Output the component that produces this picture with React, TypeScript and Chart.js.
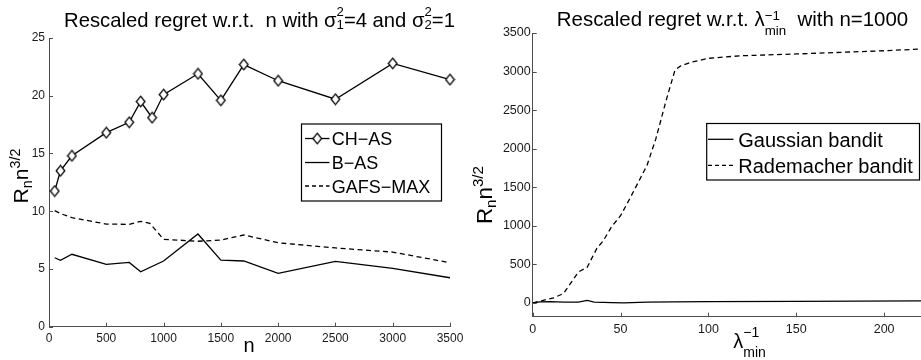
import React, { useEffect, useRef } from 'react';
import { Chart, registerables } from 'chart.js';

Chart.register(...registerables);

// ---------- data (left panel) ----------
const nCH = [50, 100, 200, 500, 700, 800, 900, 1000, 1300, 1500, 1700, 2000, 2500, 3000, 3500];
const chAS = [11.75, 13.5, 14.8, 16.8, 17.7, 19.5, 18.1, 20.1, 21.9, 19.6, 22.7, 21.3, 19.7, 22.8, 21.4];
const nB = [50, 100, 200, 500, 700, 800, 1000, 1300, 1500, 1700, 2000, 2500, 3000, 3500];
const bAS = [5.97, 5.75, 6.27, 5.4, 5.57, 4.76, 5.69, 8.03, 5.77, 5.69, 4.62, 5.66, 5.05, 4.24];
const nGA = [50, 100, 200, 500, 700, 800, 880, 1000, 1300, 1500, 1700, 2000, 2500, 3000, 3500];
const gafsMax = [10.05, 9.8, 9.44, 8.89, 8.86, 9.12, 8.95, 7.57, 7.4, 7.5, 7.94, 7.27, 6.82, 6.46, 5.54];
const leftXTicks = [0, 500, 1000, 1500, 2000, 2500, 3000, 3500];
const leftYTicks = [0, 5, 10, 15, 20, 25];
const leftLegend = ['CH\u2212AS', 'B\u2212AS', 'GAFS\u2212MAX'];

// ---------- data (right panel) ----------
const lamR = [0, 2, 5, 8, 12, 17.5, 26, 31, 36.5, 40, 45, 50, 55, 60, 65, 70, 76, 81, 84, 90, 100, 118, 150, 200, 221];
const rademacher = [0, 10, 25, 45, 65, 120, 400, 460, 706, 800, 990, 1130, 1340, 1560, 1780, 2120, 2630, 3020, 3070, 3120, 3172, 3204, 3228, 3270, 3292];
const lamG = [0, 4, 10, 18, 26, 31, 35, 45, 52, 65, 80, 100, 150, 221];
const gaussian = [0, 12, 16, 10, 10, 32, 10, 3, 0, 8, 12, 15, 20, 25];
const rightXTicks = [0, 50, 100, 150, 200];
const rightYTicks = [0, 500, 1000, 1500, 2000, 2500, 3000, 3500];
const rightLegend = ['Gaussian bandit', 'Rademacher bandit'];

const FONT = '"Liberation Sans", Arial, Helvetica, sans-serif';
const AXIS = '#4d4d4d';

type Seg = { t?: string; sup?: string; sub?: string; s?: number; dy?: number; supDy?: number; subDy?: number };

function segWidth(ctx: CanvasRenderingContext2D, seg: Seg, base: number) {
  if (seg.t !== undefined) {
    ctx.font = `${base * (seg.s ?? 1)}px ${FONT}`;
    return ctx.measureText(seg.t).width;
  }
  ctx.font = `${base * (seg.s ?? 0.65)}px ${FONT}`;
  return Math.max(seg.sup ? ctx.measureText(seg.sup).width : 0, seg.sub ? ctx.measureText(seg.sub).width : 0);
}

function richWidth(ctx: CanvasRenderingContext2D, segs: Seg[], base: number) {
  return segs.reduce((a, s) => a + segWidth(ctx, s, base), 0);
}

function drawRich(
  ctx: CanvasRenderingContext2D,
  segs: Seg[],
  x: number,
  y: number,
  base: number,
  opts: { align?: 'left' | 'center'; rotate?: boolean; fit?: number } = {}
) {
  let b = base;
  if (opts.fit) b = base * (opts.fit / richWidth(ctx, segs, base));
  const w = richWidth(ctx, segs, b);
  ctx.save();
  ctx.translate(x, y);
  if (opts.rotate) ctx.rotate(-Math.PI / 2);
  let cx = opts.align === 'center' ? -w / 2 : 0;
  ctx.textBaseline = 'alphabetic';
  ctx.textAlign = 'left';
  ctx.fillStyle = '#000';
  for (const s of segs) {
    const sw = segWidth(ctx, s, b);
    if (s.t !== undefined) {
      ctx.font = `${b * (s.s ?? 1)}px ${FONT}`;
      ctx.fillText(s.t, cx, (s.dy ?? 0) * b);
    } else {
      ctx.font = `${b * (s.s ?? 0.65)}px ${FONT}`;
      if (s.sup) ctx.fillText(s.sup, cx, (s.supDy ?? -0.45) * b);
      if (s.sub) ctx.fillText(s.sub, cx, (s.subDy ?? 0.25) * b);
    }
    cx += sw;
  }
  ctx.restore();
}

function drawInwardTicks(chart: any, len = 4) {
  const { ctx, chartArea: a, scales } = chart;
  const x = scales.x;
  const y = scales.y;
  ctx.save();
  ctx.strokeStyle = AXIS;
  ctx.lineWidth = 1;
  ctx.beginPath();
  for (const t of x.ticks) {
    const px = Math.round(x.getPixelForValue(t.value)) + 0.5;
    ctx.moveTo(px, a.bottom);
    ctx.lineTo(px, a.bottom - len);
  }
  for (const t of y.ticks) {
    const py = Math.round(y.getPixelForValue(t.value)) + 0.5;
    ctx.moveTo(a.left, py);
    ctx.lineTo(a.left + len, py);
  }
  ctx.stroke();
  ctx.restore();
}

function makeDiamond(): HTMLCanvasElement {
  const c = document.createElement('canvas');
  c.width = 11;
  c.height = 13;
  const g = c.getContext('2d')!;
  g.beginPath();
  g.moveTo(5.5, 1.2);
  g.lineTo(9.8, 6.5);
  g.lineTo(5.5, 11.8);
  g.lineTo(1.2, 6.5);
  g.closePath();
  g.fillStyle = '#fff';
  g.fill();
  g.lineWidth = 1.3;
  g.strokeStyle = '#000';
  g.stroke();
  return c;
}

type LegendRow = { label: string; dash?: number[]; marker?: HTMLCanvasElement };

function drawLegend(
  ctx: CanvasRenderingContext2D,
  box: [number, number, number, number],
  rows: LegendRow[],
  baselines: number[],
  sx0: number,
  sx1: number,
  textX: number,
  size: number
) {
  const [x0, y0, x1, y1] = box;
  ctx.save();
  ctx.fillStyle = '#fff';
  ctx.fillRect(x0, y0, x1 - x0, y1 - y0);
  ctx.strokeStyle = '#000';
  ctx.lineWidth = 1.2;
  ctx.strokeRect(x0, y0, x1 - x0, y1 - y0);
  rows.forEach((r, i) => {
    const bl = baselines[i];
    const ly = bl - size * 0.36;
    ctx.beginPath();
    ctx.setLineDash(r.dash ?? []);
    ctx.lineWidth = 1.3;
    ctx.moveTo(sx0, ly);
    ctx.lineTo(sx1, ly);
    ctx.stroke();
    ctx.setLineDash([]);
    if (r.marker) {
      ctx.drawImage(r.marker, (sx0 + sx1) / 2 - r.marker.width / 2, ly - r.marker.height / 2);
    }
    ctx.fillStyle = '#000';
    ctx.font = `${size}px ${FONT}`;
    ctx.textBaseline = 'alphabetic';
    ctx.textAlign = 'left';
    ctx.fillText(r.label, textX, bl);
  });
  ctx.restore();
}

function axisOpts(ticks: number[], min: number, max: number, size: number, pad: number, fit: (s: any) => void) {
  return {
    type: 'linear' as const,
    min,
    max,
    afterBuildTicks: (s: any) => {
      s.ticks = ticks.map((v) => ({ value: v }));
    },
    afterFit: fit,
    grid: { display: true, drawOnChartArea: false, drawTicks: false },
    border: { display: true, color: AXIS, width: 1 },
    ticks: {
      font: { family: FONT, size },
      color: '#1a1a1a',
      padding: pad,
      maxRotation: 0,
      autoSkip: false,
      callback: (v: any) => String(v),
    },
  };
}

function leftConfig(diamond: HTMLCanvasElement): any {
  const decor = {
    id: 'leftDecor',
    afterDraw(chart: any) {
      const ctx = chart.ctx as CanvasRenderingContext2D;
      drawInwardTicks(chart);
      drawRich(
        ctx,
        [
          { t: 'Rescaled regret w.r.t.  n with \u03c3' },
          { sup: '2', sub: '1', supDy: -0.52, subDy: 0.1 },
          { t: '=4 and \u03c3' },
          { sup: '2', sub: '2', supDy: -0.52, subDy: 0.1 },
          { t: '=1' },
        ],
        259.5,
        26.7,
        18,
        { align: 'center', fit: 391 }
      );
      drawRich(
        ctx,
        [{ t: 'R' }, { t: 'n', s: 0.68, dy: 0.18 }, { t: 'n' }, { t: '3/2', s: 0.68, dy: -0.4 }],
        28.3,
        203.5,
        18,
        { fit: 55, rotate: true }
      );
      drawRich(ctx, [{ t: 'n' }], 249, 351.5, 20, { align: 'center' });
      drawLegend(
        ctx,
        [301.5, 124, 441.5, 201],
        [
          { label: leftLegend[0], marker: diamond },
          { label: leftLegend[1] },
          { label: leftLegend[2], dash: [4, 3] },
        ],
        [145, 169, 192.5],
        305,
        329.5,
        331.7,
        18
      );
    },
  };
  return {
    type: 'line',
    data: {
      datasets: [
        {
          label: leftLegend[0],
          data: nCH.map((x, i) => ({ x, y: chAS[i] })),
          borderColor: '#000',
          borderWidth: 1.3,
          pointStyle: diamond,
          pointRadius: 5,
          tension: 0,
          clip: false,
        },
        {
          label: leftLegend[1],
          data: nB.map((x, i) => ({ x, y: bAS[i] })),
          borderColor: '#000',
          borderWidth: 1.3,
          pointRadius: 0,
          tension: 0,
          clip: false,
        },
        {
          label: leftLegend[2],
          data: nGA.map((x, i) => ({ x, y: gafsMax[i] })),
          borderColor: '#000',
          borderWidth: 1.3,
          borderDash: [5, 3.5],
          pointRadius: 0,
          tension: 0,
          clip: false,
        },
      ],
    },
    options: {
      responsive: false,
      maintainAspectRatio: false,
      devicePixelRatio: 1,
      animation: false,
      layout: { padding: { left: 0, top: 38, right: 30, bottom: 0 } },
      plugins: { legend: { display: false }, tooltip: { enabled: false }, title: { display: false } },
      scales: {
        x: axisOpts(leftXTicks, 0, 3500, 12, 5, (s: any) => {
          s.height = 33.3;
        }),
        y: axisOpts(leftYTicks, 0, 25, 12, 4, (s: any) => {
          s.width = 49;
        }),
      },
    },
    plugins: [decor],
  };
}

function rightConfig(): any {
  const decor = {
    id: 'rightDecor',
    afterDraw(chart: any) {
      const ctx = chart.ctx as CanvasRenderingContext2D;
      drawInwardTicks(chart);
      drawRich(
        ctx,
        [
          { t: 'Rescaled regret w.r.t. \u03bb' },
          { sup: '\u22121', sub: 'min', supDy: -0.3, subDy: 0.47 },
          { t: '  with n=1000' },
        ],
        272.5,
        25.7,
        19,
        { align: 'center', fit: 351.6 }
      );
      drawRich(
        ctx,
        [{ t: 'R' }, { t: 'n', s: 0.68, dy: 0.18 }, { t: 'n' }, { t: '3/2', s: 0.68, dy: -0.4 }],
        31.7,
        224,
        19,
        { fit: 58, rotate: true }
      );
      drawRich(
        ctx,
        [{ t: '\u03bb' }, { sup: '\u22121', sub: 'min', s: 0.7, supDy: -0.56, subDy: 0.44 }],
        273.3,
        348,
        20
      );
      drawLegend(
        ctx,
        [246.7, 123.5, 459.5, 180],
        [{ label: rightLegend[0] }, { label: rightLegend[1], dash: [4, 3] }],
        [146.5, 172.5],
        248,
        273.5,
        278.3,
        20
      );
    },
  };
  return {
    type: 'line',
    data: {
      datasets: [
        {
          label: rightLegend[0],
          data: lamG.map((x, i) => ({ x, y: gaussian[i] })),
          borderColor: '#000',
          borderWidth: 1.3,
          pointRadius: 0,
          tension: 0,
        },
        {
          label: rightLegend[1],
          data: lamR.map((x, i) => ({ x, y: rademacher[i] })),
          borderColor: '#000',
          borderWidth: 1.3,
          borderDash: [5, 3.5],
          pointRadius: 0,
          tension: 0,
        },
      ],
    },
    options: {
      responsive: false,
      maintainAspectRatio: false,
      devicePixelRatio: 1,
      animation: false,
      layout: { padding: { left: 0, top: 33, right: 0, bottom: 0 } },
      plugins: { legend: { display: false }, tooltip: { enabled: false }, title: { display: false } },
      scales: {
        x: axisOpts(rightXTicks, 0, 221, 12.5, 5, (s: any) => {
          s.height = 43.3;
        }),
        y: axisOpts(rightYTicks, -180, 3500, 12.5, 2, (s: any) => {
          s.width = 72.7;
        }),
      },
    },
    plugins: [decor],
  };
}

export default function App() {
  const lRef = useRef<HTMLCanvasElement>(null);
  const rRef = useRef<HTMLCanvasElement>(null);
  useEffect(() => {
    const diamond = makeDiamond();
    const l = new Chart(lRef.current!, leftConfig(diamond));
    const r = new Chart(rRef.current!, rightConfig());
    return () => {
      l.destroy();
      r.destroy();
    };
  }, []);
  return (
    <div
      style={{
        position: 'absolute',
        left: 0,
        top: 0,
        width: 921,
        height: 360,
        background: '#fff',
        overflow: 'hidden',
      }}
    >
      <canvas ref={lRef} width={480} height={360} style={{ position: 'absolute', left: 0, top: 0, width: 480, height: 360 }} />
      <canvas ref={rRef} width={461} height={360} style={{ position: 'absolute', left: 460, top: 0, width: 461, height: 360 }} />
    </div>
  );
}
